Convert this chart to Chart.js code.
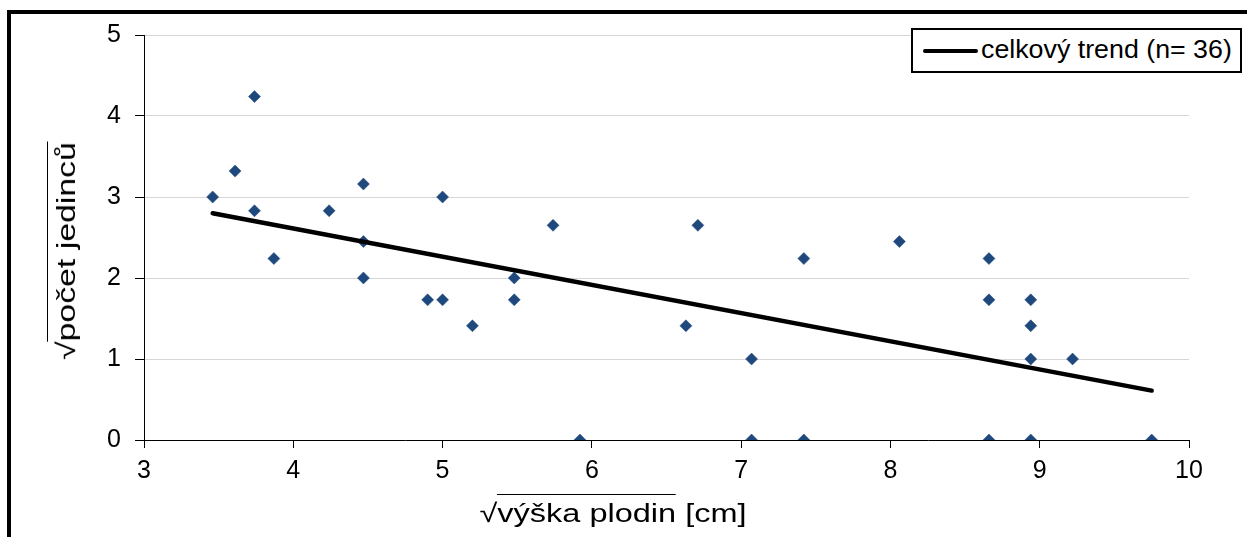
<!DOCTYPE html>
<html>
<head>
<meta charset="utf-8">
<script src="https://cdn.jsdelivr.net/npm/chart.js@4/dist/chart.umd.min.js"></script>
<style>
  html, body { margin: 0; padding: 0; background: #fff; }
  #wrap { position: relative; width: 1247px; height: 537px; overflow: hidden; font-family: "Liberation Sans", Arial, sans-serif; color: #000; }
  #chart { position: absolute; left: 0; top: 0; }
  #frame { position: absolute; left: 7px; top: 10px; width: 1400px; height: 700px; border-left: 4px solid #000; border-top: 4px solid #000; }
  .ttl { position: absolute; white-space: nowrap; font-size: 26px; line-height: 1; }
  .ttl .ov { border-top: 1.5px solid #000; padding-top: 3px; }
  #xTitle { left: 613px; top: 513px; transform: translate(-50%, -50%) scaleX(1.25); }
  #yTitle { left: 66px; top: 251px; transform: translate(-50%, -50%) rotate(-90deg) scaleX(1.3); }
  #legend { position: absolute; left: 911px; top: 28px; width: 327px; height: 41px; border: 2px solid #000; background: #fff; font-size: 26px; }
  #legend .sw { position: absolute; left: 10px; top: 19px; width: 55px; height: 4px; background: #000; border-radius: 2px; }
  #legend .tx { position: absolute; left: 68px; top: 6px; line-height: 1; transform-origin: 0 50%; transform: scaleX(1.03); }
</style>
</head>
<body>
<div id="wrap">
  <canvas id="chart" width="1247" height="537"></canvas>
  <div id="frame"></div>
  <div id="legend"><div class="sw"></div><div class="tx">celkový trend (n= 36)</div></div>
  <div class="ttl" id="xTitle">√<span class="ov">výška plodin</span> [cm]</div>
  <div class="ttl" id="yTitle">√<span class="ov">počet jedinců</span></div>
</div>
<script>
// square-root transformed values
const heightSqrt = [3.46, 3.61, 3.74, 3.74, 3.87, 4.24, 4.47, 4.47, 4.47, 4.90, 5.00,
                    5.00, 5.20, 5.48, 5.48, 5.74, 5.92, 6.63, 6.71, 7.07, 7.07, 7.42,
                    7.42, 8.06, 8.66, 8.66, 8.66, 8.94, 8.94, 8.94, 8.94, 9.22, 9.75];
const countSqrt  = [3.00, 3.32, 4.24, 2.83, 2.24, 2.83, 3.16, 2.45, 2.00, 1.73, 3.00,
                    1.73, 1.41, 2.00, 1.73, 2.65, 0.00, 1.41, 2.65, 1.00, 0.00, 2.24,
                    0.00, 2.45, 2.24, 1.73, 0.00, 1.73, 1.41, 1.00, 0.00, 1.00, 0.00];

// trend line end points
const trendX = [3.46, 9.75];
const trendY = [2.80, 0.61];

const xTicks = [3, 4, 5, 6, 7, 8, 9, 10];
const yTicks = [0, 1, 2, 3, 4, 5];

const tickFont = { family: '"Liberation Sans", Arial, sans-serif', size: 25 };

new Chart(document.getElementById('chart'), {
  type: 'scatter',
  data: {
    datasets: [
      {
        label: 'body',
        data: heightSqrt.map((x, i) => ({ x, y: countSqrt[i] })),
        pointStyle: 'rectRot',
        pointRadius: 6,
        pointBorderWidth: 0.5,
        backgroundColor: '#1f497d',
        borderColor: '#1f497d',
        order: 2
      },
      {
        label: 'celkový trend (n= 36)',
        type: 'line',
        data: trendX.map((x, i) => ({ x, y: trendY[i] })),
        borderColor: '#000',
        borderWidth: 4.5,
        borderCapStyle: 'round',
        pointRadius: 0,
        fill: false,
        order: 1
      }
    ]
  },
  options: {
    responsive: false,
    animation: false,
    layout: { padding: { left: 0, right: 58, top: 35, bottom: 0 } },
    plugins: { legend: { display: false }, tooltip: { enabled: false } },
    scales: {
      x: {
        type: 'linear',
        min: xTicks[0], max: xTicks[xTicks.length - 1],
        afterBuildTicks: (s) => { s.ticks = xTicks.map(v => ({ value: v })); },
        afterFit: (s) => { s.height = 97; },
        grid: { drawOnChartArea: false, drawTicks: true, tickLength: 8, tickColor: '#000' },
        border: { color: '#000', width: 1 },
        ticks: { color: '#000', font: tickFont, padding: 8, maxRotation: 0 }
      },
      y: {
        type: 'linear',
        min: yTicks[0], max: yTicks[yTicks.length - 1],
        afterBuildTicks: (s) => { s.ticks = yTicks.map(v => ({ value: v })); },
        afterFit: (s) => { s.width = 144; },
        grid: { color: '#d6d6d6', lineWidth: 1, drawTicks: true, tickLength: 9, tickColor: '#000' },
        border: { color: '#000', width: 1 },
        ticks: { color: '#000', font: tickFont, padding: 14 }
      }
    }
  }
});
</script>
</body>
</html>
